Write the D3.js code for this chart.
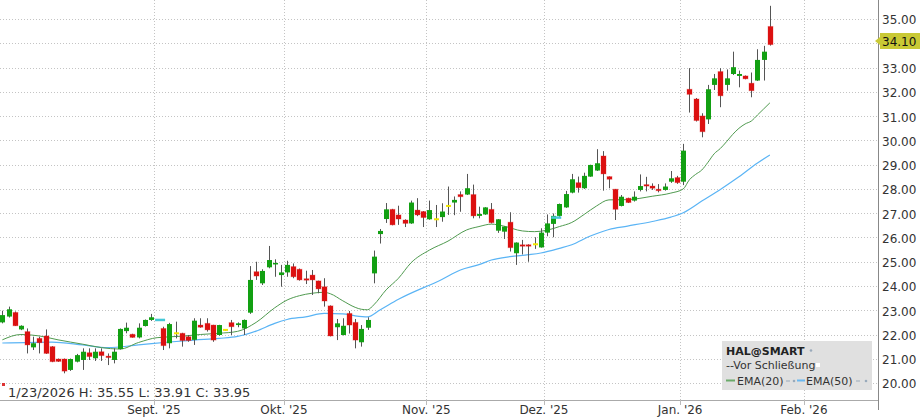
<!DOCTYPE html>
<html><head><meta charset="utf-8">
<script src="https://cdn.jsdelivr.net/npm/d3@7"></script>
<style>
body{margin:0;background:#fff}
svg{display:block;font-family:"DejaVu Sans",Verdana,sans-serif}
</style>
</head><body>
<svg id="c" width="922" height="419"></svg>
<script>
// ---- trading days shown (category axis) ----
const dates = [
"2025-07-28","2025-07-29","2025-07-30","2025-07-31",
"2025-08-01","2025-08-04","2025-08-05","2025-08-06","2025-08-07","2025-08-08","2025-08-11","2025-08-12","2025-08-13","2025-08-14","2025-08-15","2025-08-18","2025-08-19","2025-08-20","2025-08-21","2025-08-22","2025-08-25","2025-08-26","2025-08-27","2025-08-28","2025-08-29",
"2025-09-02","2025-09-03","2025-09-04","2025-09-05","2025-09-08","2025-09-09","2025-09-10","2025-09-11","2025-09-12","2025-09-15","2025-09-16","2025-09-17","2025-09-18","2025-09-19","2025-09-22","2025-09-23","2025-09-24","2025-09-25","2025-09-26","2025-09-29","2025-09-30",
"2025-10-01","2025-10-02","2025-10-03","2025-10-06","2025-10-07","2025-10-08","2025-10-09","2025-10-10","2025-10-13","2025-10-14","2025-10-15","2025-10-16","2025-10-17","2025-10-20","2025-10-21","2025-10-22","2025-10-23","2025-10-24","2025-10-27","2025-10-28","2025-10-29","2025-10-30","2025-10-31",
"2025-11-03","2025-11-04","2025-11-05","2025-11-06","2025-11-07","2025-11-10","2025-11-11","2025-11-12","2025-11-13","2025-11-14","2025-11-17","2025-11-18","2025-11-19","2025-11-20","2025-11-21","2025-11-24","2025-11-25","2025-11-26","2025-11-28",
"2025-12-01","2025-12-02","2025-12-03","2025-12-04","2025-12-05","2025-12-08","2025-12-09","2025-12-10","2025-12-11","2025-12-12","2025-12-15","2025-12-16","2025-12-17","2025-12-18","2025-12-19","2025-12-22","2025-12-23","2025-12-24","2025-12-26","2025-12-29","2025-12-30","2025-12-31",
"2026-01-02","2026-01-05","2026-01-06","2026-01-07","2026-01-08","2026-01-09","2026-01-12","2026-01-13","2026-01-14","2026-01-15","2026-01-16","2026-01-20","2026-01-21","2026-01-22","2026-01-23"
];
// empty future slots on the time axis
const futureDates = ["2026-01-26","2026-01-27","2026-01-28","2026-01-29","2026-01-30","2026-02-02","2026-02-03","2026-02-04","2026-02-05","2026-02-06","2026-02-09","2026-02-10","2026-02-11","2026-02-12","2026-02-13","2026-02-17","2026-02-18"];

// ---- OHLC (HAL@SMART) ----
const open = [22.50,22.74,22.91,22.21,22.12,21.47,21.84,21.94,21.50,20.99,20.99,20.54,20.88,20.95,21.25,21.02,21.29,21.11,20.95,21.40,22.14,22.01,21.88,22.35,22.60,
null,22.25,21.64,22.05,22.05,21.91,21.78,22.39,22.46,22.39,21.98,22.19,22.49,22.39,22.25,22.90,24.59,24.11,24.77,24.90,24.45,
24.56,24.80,24.69,24.30,24.45,24.21,23.97,23.18,22.30,21.98,22.87,22.50,21.68,22.28,24.52,26.14,26.76,27.16,26.93,26.72,26.58,27.13,27.07,
26.75,26.75,26.84,27.30,27.44,27.77,27.77,27.77,26.89,26.95,27.16,26.28,26.24,26.63,25.35,25.70,25.70,25.72,25.59,
26.20,26.56,26.89,27.24,27.85,28.26,28.03,28.51,28.76,29.36,28.51,27.99,27.30,27.62,27.52,27.96,28.18,28.12,27.99,27.96,28.30,28.47,
28.30,32.11,31.71,31.01,30.87,32.29,32.84,32.29,32.74,32.66,32.66,32.36,32.47,33.32,34.70];
const high = [22.98,23.15,22.95,22.38,22.25,21.91,21.91,22.21,21.52,21.01,21.01,21.01,21.20,21.43,21.43,21.43,21.43,21.22,21.43,22.25,22.49,22.03,22.46,22.62,22.85,
null,22.32,22.48,22.53,22.07,21.98,22.67,22.67,22.67,22.40,22.40,22.22,22.60,22.50,22.62,24.82,25.00,24.69,25.65,25.10,24.87,
25.04,24.93,24.72,24.63,24.66,24.22,24.32,23.20,22.64,22.67,22.97,22.64,22.39,22.71,25.46,26.35,27.42,27.18,27.31,26.75,27.52,27.62,27.09,
27.52,27.34,27.41,28.10,27.69,27.90,28.62,28.18,27.27,27.25,27.42,26.76,26.46,27.04,25.80,25.90,25.72,26.01,26.38,
26.95,26.99,27.40,27.92,28.62,28.51,28.67,29.00,29.64,29.56,28.52,28.00,27.75,27.64,27.90,28.60,28.50,28.23,28.20,28.23,28.74,28.54,
29.86,32.98,31.75,31.12,32.29,32.74,32.98,32.93,33.66,32.88,32.68,32.80,33.76,33.90,35.55];
const low = [22.46,22.70,22.35,22.18,21.22,21.36,21.22,21.20,20.86,20.87,20.40,20.50,20.85,20.54,20.95,20.91,20.91,20.74,20.81,21.38,22.05,21.87,21.84,22.33,22.56,
null,21.36,21.43,21.84,21.50,21.70,21.57,22.28,22.12,21.70,21.95,22.15,21.98,22.30,21.98,22.85,24.25,24.04,24.73,24.38,23.97,
24.38,24.32,24.22,24.08,23.63,23.70,23.15,21.92,21.77,21.96,22.04,21.43,21.50,22.19,24.11,25.75,26.60,26.50,26.52,26.43,26.56,26.88,26.43,
26.73,26.43,26.65,26.93,26.92,27.06,27.75,26.79,26.79,26.93,26.58,26.19,25.94,25.42,24.87,25.30,25.00,25.53,25.58,
26.05,26.01,26.85,27.22,27.82,27.85,28.00,28.50,28.74,27.93,28.03,26.72,27.28,27.42,27.48,27.90,27.90,27.96,27.86,27.93,28.25,28.21,
28.16,31.15,30.78,30.13,30.68,32.08,31.37,32.05,32.70,32.19,32.52,31.78,32.45,32.47,33.91];
const close = [22.80,23.04,22.36,22.36,21.57,21.64,21.66,21.22,20.88,20.89,20.49,20.99,21.15,21.29,21.09,21.29,21.13,21.06,21.29,22.23,22.28,21.88,22.28,22.60,22.71,
null,21.54,22.43,22.05,21.75,21.75,22.57,22.30,22.19,21.77,22.39,22.19,22.32,22.46,22.60,24.25,24.41,24.62,25.07,24.95,24.56,
24.87,24.38,24.25,24.27,24.25,23.88,23.38,21.94,22.46,22.36,22.39,21.77,22.23,22.60,25.21,26.27,27.16,26.52,26.76,26.58,27.44,26.93,26.82,
27.13,26.75,27.07,27.30,27.55,27.68,28.03,26.89,26.97,27.24,26.61,26.75,26.45,25.58,25.79,25.66,25.67,25.72,26.20,
26.58,26.89,27.38,27.79,28.40,28.05,28.54,28.99,29.06,28.62,28.40,27.16,27.68,27.44,27.68,28.12,28.12,28.03,27.93,28.10,28.44,28.26,
29.58,31.90,30.82,30.36,32.11,32.56,31.84,32.56,33.02,32.74,32.54,32.05,33.32,33.66,33.95];

// ---- EMA(20) / EMA(50) at these trading-day positions ----
const ema20At = [0,3,6,9,13,16,19,22,25,29,32,35,38,41,44,46,48,50,52,53,55,57,58,59,60,62,64,66,69,72,75,77,79,81,84,86,88,90,92,94,96,98,101,105,108,110,111,112,113,114,115,116,117,118,119,120,121,122,123,124];
const ema20   = [21.78,22.00,21.94,21.78,21.60,21.46,21.40,21.67,21.87,21.93,22.00,22.05,22.13,22.50,23.10,23.42,23.60,23.70,23.74,23.68,23.39,23.12,23.04,23.02,23.22,23.84,24.32,24.95,25.48,25.85,26.31,26.45,26.55,26.47,26.27,26.24,26.30,26.45,26.62,26.95,27.30,27.55,27.56,27.70,27.83,28.00,28.38,28.60,28.78,29.10,29.45,29.67,29.95,30.25,30.50,30.68,30.80,31.05,31.30,31.55];
const ema50At = [0,8,13,17,22,27,31,35,38,41,44,46,49,52,55,57,59,61,64,71,74,77,79,82,85,87,90,92,95,98,101,105,108,110,113,116,119,122,124];
const ema50   = [21.65,21.69,21.57,21.46,21.57,21.69,21.77,21.84,21.92,22.14,22.46,22.62,22.73,22.87,22.85,22.77,22.73,23.01,23.45,24.27,24.66,24.88,25.07,25.21,25.29,25.36,25.55,25.70,26.06,26.33,26.47,26.66,26.84,27.02,27.50,27.98,28.50,29.07,29.40];

// ---- "Vor Schließung" marks ----
const vorDates  = ["2025-09-02","2025-12-02"];
const vorPrices = [22.60,26.82];

// ---- axis labels ----
const yTicks = [20,21,22,23,24,25,26,27,28,29,30,31,32,33,34,35,36];
const monthLabels = ["Sept. '25","Okt. '25","Nov. '25","Dez. '25","Jan. '26","Feb. '26"];
const monthStarts = ["2025-09-02","2025-10-01","2025-11-03","2025-12-01","2026-01-02","2026-02-02"];
const lastPrice = 34.10;
const infoDate = "1/23/2026";
const symbol = "HAL@SMART";
const legendNames = ["--Vor Schließung","EMA(20)","EMA(50)"];

// ================= drawing =================
const svg = d3.select("#c");
const W = 878, H = 400;
const allDates = dates.concat(futureDates);
const xb = d3.scaleBand().domain(allDates).range([-0.75, 878.2]).padding(0);
const bw = xb.bandwidth();
const cx = d => xb(d) + bw/2;
const y = d3.scaleLinear().domain([19.30, 35.79]).range([400, 0]);

svg.append("defs").append("clipPath").attr("id","plot")
  .append("rect").attr("x",0).attr("y",0).attr("width",W).attr("height",H);

// grid
const grid = svg.append("g").attr("clip-path","url(#plot)");
grid.selectAll("line.h").data(yTicks).join("line")
  .attr("x1",0).attr("x2",W).attr("y1",d=>Math.round(y(d))+0.5).attr("y2",d=>Math.round(y(d))+0.5)
  .attr("stroke","#c4c4c4").attr("stroke-dasharray","1,2");
grid.selectAll("line.v").data(monthStarts).join("line")
  .attr("x1",d=>Math.round(xb(d))+0.5).attr("x2",d=>Math.round(xb(d))+0.5).attr("y1",0).attr("y2",H)
  .attr("stroke","#c4c4c4").attr("stroke-dasharray","1,2");

const plot = svg.append("g").attr("clip-path","url(#plot)");

// EMA lines
const lineGen = d3.line().x(d=>cx(dates[d[0]])).y(d=>y(d[1])).curve(d3.curveMonotoneX);
plot.append("path").datum(ema50At.map((i,k)=>[i,ema50[k]]))
  .attr("d",lineGen).attr("fill","none").attr("stroke","#5ab4f5").attr("stroke-width",1.2);
plot.append("path").datum(ema20At.map((i,k)=>[i,ema20[k]]))
  .attr("d",lineGen).attr("fill","none").attr("stroke","#4f9a4f").attr("stroke-width",1);

// candles
const candles = dates.map((d,i)=>({d,o:open[i],h:high[i],l:low[i],c:close[i]})).filter(c=>c.o!==null);
const cw = 5;
plot.selectAll("line.wick").data(candles).join("line")
  .attr("x1",c=>Math.round(cx(c.d))+0.5).attr("x2",c=>Math.round(cx(c.d))+0.5)
  .attr("y1",c=>y(c.h)).attr("y2",c=>y(c.l))
  .attr("stroke","#555").attr("stroke-width",1);
plot.selectAll("rect.body").data(candles).join("rect")
  .attr("x",c=>Math.round(cx(c.d))+0.5-cw/2)
  .attr("width",cw)
  .attr("y",c=> c.o===c.c ? y(c.c)-1 : y(Math.max(c.o,c.c)))
  .attr("height",c=> c.o===c.c ? 2 : Math.max(1.5, Math.abs(y(c.o)-y(c.c))))
  .attr("fill",c=> c.o===c.c ? "#f2e600" : (c.c>c.o ? "#12a012" : "#dc1010"))
  .attr("stroke",c=> (c.c<c.o) ? "rgba(220,30,30,0.3)" : "none").attr("stroke-width",1);

// Vor Schließung marks
plot.selectAll("line.vor").data(vorDates).join("line")
  .attr("x1",d=>cx(d)-2).attr("x2",d=>cx(d)+8)
  .attr("y1",(d,i)=>y(vorPrices[i])).attr("y2",(d,i)=>y(vorPrices[i]))
  .attr("stroke","#45c8d8").attr("stroke-width",2.5);

// axes (tick label hidden where the last-price tag sits, as in the source)
const ly = Math.round(y(lastPrice));
const yAxis = d3.axisRight(y).tickValues(yTicks.filter(v => Math.abs(y(v)-ly) > 9))
  .tickFormat(d3.format(".2f")).tickSize(0).tickPadding(4);
const ya = svg.append("g").attr("transform",`translate(${W},0)`).call(yAxis);
ya.select(".domain").attr("stroke","#888").attr("d",`M0.5,0V${H+10}`);
ya.selectAll("text").attr("font-size",12).attr("fill","#333").attr("font-family","DejaVu Sans, Verdana, sans-serif").attr("dy","0.4em");

const xAxisScale = d3.scaleOrdinal().domain(monthStarts).range(monthStarts.map(d=>xb(d)));
const xa = svg.append("g").attr("transform",`translate(0,${H})`);
xa.append("line").attr("x1",0).attr("x2",W).attr("y1",0.5).attr("y2",0.5).attr("stroke","#aaa");
xa.selectAll("line.t").data(monthStarts).join("line")
  .attr("x1",d=>Math.round(xAxisScale(d))+0.5).attr("x2",d=>Math.round(xAxisScale(d))+0.5)
  .attr("y1",0).attr("y2",5).attr("stroke","#bbb");
xa.selectAll("text").data(monthStarts).join("text")
  .attr("x",d=>xAxisScale(d)).attr("y",14).attr("text-anchor","middle")
  .attr("font-size",12).attr("fill","#333").text((d,i)=>monthLabels[i]);

// last price label
svg.append("path")
  .attr("d",`M875,${ly} L880,${ly-4} L880,${ly-8} L920,${ly-8} L920,${ly+8} L880,${ly+8} L880,${ly+4} Z`)
  .attr("fill","#c9c935");
svg.append("text").attr("x",882).attr("y",ly).attr("dy","0.38em")
  .attr("font-size",12).attr("fill","#111").text(lastPrice.toFixed(2));

// info line
const li = dates.length-1;
svg.append("rect").attr("x",2).attr("y",383).attr("width",3).attr("height",3).attr("fill","#d33");
svg.append("text").attr("x",8).attr("y",397).attr("font-size",13).attr("fill","#333")
  .text(`${infoDate} H: ${high[li].toFixed(2)} L: ${low[li].toFixed(2)} C: ${close[li].toFixed(2)}`);

// legend
const lg = svg.append("g");
lg.append("rect").attr("x",722).attr("y",341).attr("width",150).attr("height",49).attr("fill","#e0e0e0");
lg.append("text").attr("x",726).attr("y",354.5).attr("font-size",11).attr("font-weight","bold").attr("fill","#222").text(symbol);
lg.append("circle").attr("cx",811).attr("cy",350.5).attr("r",1.3).attr("fill","#9ab");
lg.append("text").attr("x",726).attr("y",369).attr("font-size",11).attr("fill","#333").text(legendNames[0]);
lg.append("rect").attr("x",816).attr("y",363).attr("width",4).attr("height",4).attr("fill","#fff");
lg.append("line").attr("x1",726).attr("x2",735).attr("y1",380.5).attr("y2",380.5).attr("stroke","#6aaa6a").attr("stroke-width",2);
lg.append("text").attr("x",737).attr("y",385).attr("font-size",11).attr("fill","#333").text(legendNames[1]);
lg.append("line").attr("x1",786).attr("x2",790).attr("y1",381).attr("y2",381).attr("stroke","#9ab");
lg.append("circle").attr("cx",794).attr("cy",381).attr("r",1.3).attr("fill","#9ab");
lg.append("line").attr("x1",797).attr("x2",805).attr("y1",380.5).attr("y2",380.5).attr("stroke","#6ab8f0").attr("stroke-width",2);
lg.append("text").attr("x",806).attr("y",385).attr("font-size",11).attr("fill","#333").text(legendNames[2]);
lg.append("line").attr("x1",856).attr("x2",860).attr("y1",381).attr("y2",381).attr("stroke","#9ab");
lg.append("circle").attr("cx",866).attr("cy",381).attr("r",1.3).attr("fill","#9ab");
</script>
</body></html>
